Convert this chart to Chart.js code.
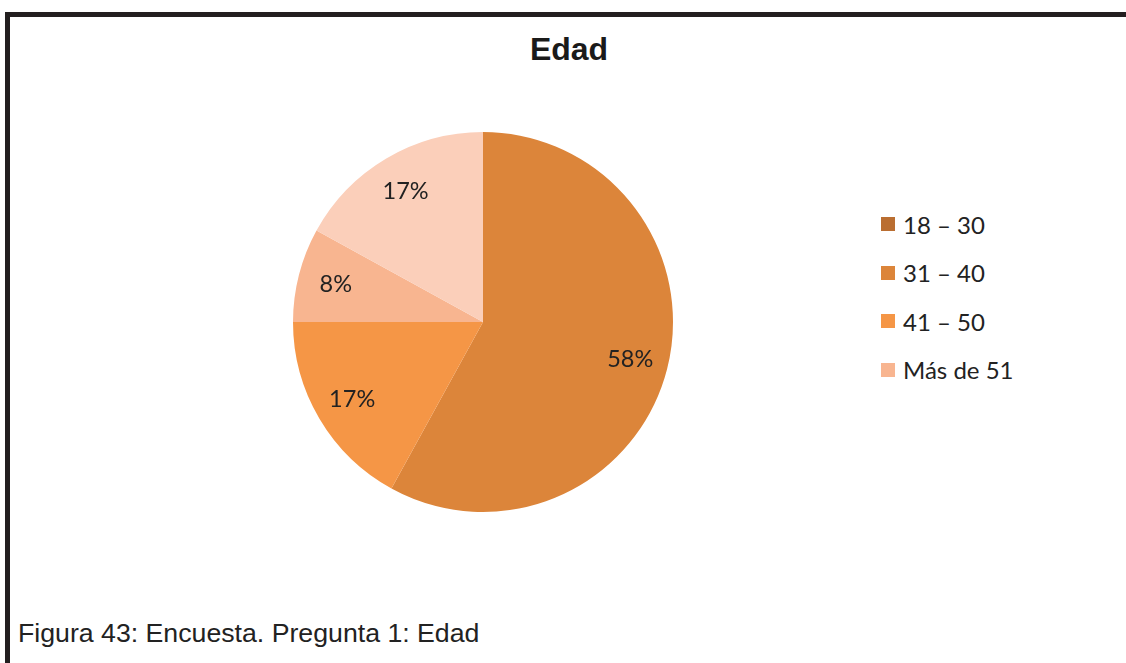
<!DOCTYPE html>
<html lang="es">
<head>
    <meta charset="UTF-8">
    <title>Edad</title>
    <script src="https://cdn.jsdelivr.net/npm/chart.js"></script>
    <style>
        body {
            margin: 0;
            width: 1126px;
            height: 663px;
            background: #fff;
            position: relative;
            overflow: hidden;
            font-family: 'Liberation Sans', Arial, sans-serif;
        }

        .frame-top {
            position: absolute;
            left: 5px;
            top: 12px;
            width: 1121px;
            height: 5px;
            background: #231f20;
        }

        .frame-left {
            position: absolute;
            left: 5px;
            top: 12px;
            width: 5px;
            height: 651px;
            background: #231f20;
        }

        h1 {
            position: absolute;
            left: 0;
            width: 1138px;
            top: 31px;
            margin: 0;
            text-align: center;
            font-size: 32px;
            font-weight: bold;
            color: #1a1a1a;
        }

        #chartBox {
            position: absolute;
            left: 283px;
            top: 122px;
            width: 400px;
            height: 400px;
        }

        #legend {
            position: absolute;
            left: 881px;
            top: 208px;
        }

        .legend-item {
            display: flex;
            align-items: center;
            height: 32px;
            margin-bottom: 16.5px;
            font-family: 'Lato', sans-serif;
            font-size: 24px;
            color: #222;
        }

        .legend-item span.box {
            width: 14px;
            height: 14px;
            margin-right: 8px;
        }

        .caption {
            position: absolute;
            left: 18px;
            top: 618px;
            font-size: 26.7px;
            color: #222;
        }
    </style>
</head>
<body>
    <div class="frame-top"></div>
    <div class="frame-left"></div>
    <h1>Edad</h1>

    <div id="chartBox"><canvas id="edadChart"></canvas></div>
    <div id="legend"></div>

    <div class="caption">Figura 43: Encuesta. Pregunta 1: Edad</div>

    <script>
        // datos
        const categories = ["18 – 30", "31 – 40", "41 – 50", "Más de 51", ""];
        const percentages = [0, 58, 17, 8, 17];
        const sliceColors = ["#BA6E31", "#DC853A", "#F59646", "#F8B590", "#FBCFBA"];

        // etiquetas de porcentaje dentro de cada sector
        const pctLabels = {
            id: "pctLabels",
            afterDatasetsDraw(chart) {
                const ctx = chart.ctx;
                const meta = chart.getDatasetMeta(0);
                ctx.save();
                ctx.font = "23.5px Lato, sans-serif";
                ctx.fillStyle = "#222";
                ctx.textAlign = "center";
                ctx.textBaseline = "middle";
                meta.data.forEach((arc, i) => {
                    const v = percentages[i];
                    if (!v) return;
                    const mid = (arc.startAngle + arc.endAngle) / 2;
                    const r = arc.outerRadius * 0.8;
                    ctx.fillText(v + "%", arc.x + Math.cos(mid) * r, arc.y + Math.sin(mid) * r);
                });
                ctx.restore();
            }
        };

        const chart = new Chart(document.getElementById("edadChart"), {
            type: "pie",
            data: {
                labels: categories,
                datasets: [{
                    data: percentages,
                    backgroundColor: sliceColors,
                    borderWidth: 0
                }]
            },
            options: {
                responsive: true,
                maintainAspectRatio: false,
                animation: false,
                layout: { padding: 10 },
                plugins: {
                    legend: { display: false },
                    tooltip: { enabled: false }
                }
            },
            plugins: [pctLabels]
        });

        // leyenda
        const legendBox = document.getElementById("legend");
        categories.forEach((name, i) => {
            if (!name) return;
            const item = document.createElement("div");
            item.className = "legend-item";
            item.innerHTML = `<span class="box" style="background:${sliceColors[i]}"></span>${name}`;
            legendBox.appendChild(item);
        });
    </script>
</body>
</html>
